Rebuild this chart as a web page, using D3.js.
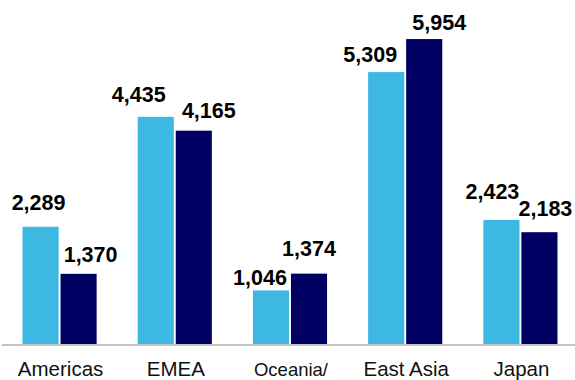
<html>
<meta charset="utf-8">
<script src="https://cdn.jsdelivr.net/npm/d3@7"></script>
<style>
body{ margin:0; background:white; }
.barLabel{ font: bold 21.5px "Liberation Sans", Arial, sans-serif; fill:#000; }
.catLabel{ font: 20.5px "Liberation Sans", Arial, sans-serif; fill:#111; }
</style>
<body>
<div id="chartDiv"></div>
<script>
var width = 575, height = 380;

var categories = ["Americas", "EMEA", "Oceania/", "East Asia", "Japan"];
var series = ["prior", "current"];
var priorValues = [2289, 4435, 1046, 5309, 2423];
var currentValues = [1370, 4165, 1374, 5954, 2183];

// hand placed label nudges in the original slide: [dx, gap above bar]
var labelNudge = {
  prior:   [[-2,17],[-17,15],[-11,5],[-16,10],[-9,21]],
  current: [[12,12],[15,13],[0,18],[15,9],[6,16]]
};

var colors = {prior:"#3db8e3", current:"#000062"};
var baseY = 344;

var svg = d3.select("#chartDiv").append("svg")
  .attr("width", width).attr("height", height);

var x0 = d3.scaleBand().domain(categories).range([2, 578]).paddingInner(0.3565).paddingOuter(0.178);
var x1 = d3.scaleBand().domain(series).range([0, x0.bandwidth()]).paddingInner(0.05);
var y = d3.scaleLinear().domain([0, 6000]).range([baseY, baseY - 307.3]);

var rows = [];
categories.forEach(function(c, i){
  rows.push({cat:c, s:"prior", v:priorValues[i], i:i});
  rows.push({cat:c, s:"current", v:currentValues[i], i:i});
});

svg.selectAll(".bar").data(rows).enter()
  .append("rect")
  .attr("class","bar")
  .attr("x", function(d){ return x0(d.cat) + x1(d.s); })
  .attr("y", function(d){ return y(d.v); })
  .attr("width", x1.bandwidth())
  .attr("height", function(d){ return baseY - y(d.v); })
  .attr("fill", function(d){ return colors[d.s]; });

svg.append("line")
  .attr("x1", 2).attr("x2", width)
  .attr("y1", baseY + 1).attr("y2", baseY + 1)
  .attr("stroke", "#c4c4c4").attr("stroke-width", 2);

svg.selectAll(".barLabel").data(rows).enter()
  .append("text")
  .attr("class","barLabel")
  .attr("text-anchor","middle")
  .attr("x", function(d){ return x0(d.cat) + x1(d.s) + x1.bandwidth()/2 + labelNudge[d.s][d.i][0]; })
  .attr("y", function(d){ return y(d.v) - labelNudge[d.s][d.i][1]; })
  .text(function(d){ return d3.format(",")(d.v); });

svg.selectAll(".catLabel").data(categories).enter()
  .append("text")
  .attr("class","catLabel")
  .attr("text-anchor","middle")
  .attr("x", function(d){ return x0(d) + x0.bandwidth()/2 + 1; })
  .attr("y", 376)
  .style("font-size", function(d){ return d == "Oceania/" ? "18.5px" : null; })
  .text(function(d){ return d; });
</script>
</body>
</html>
